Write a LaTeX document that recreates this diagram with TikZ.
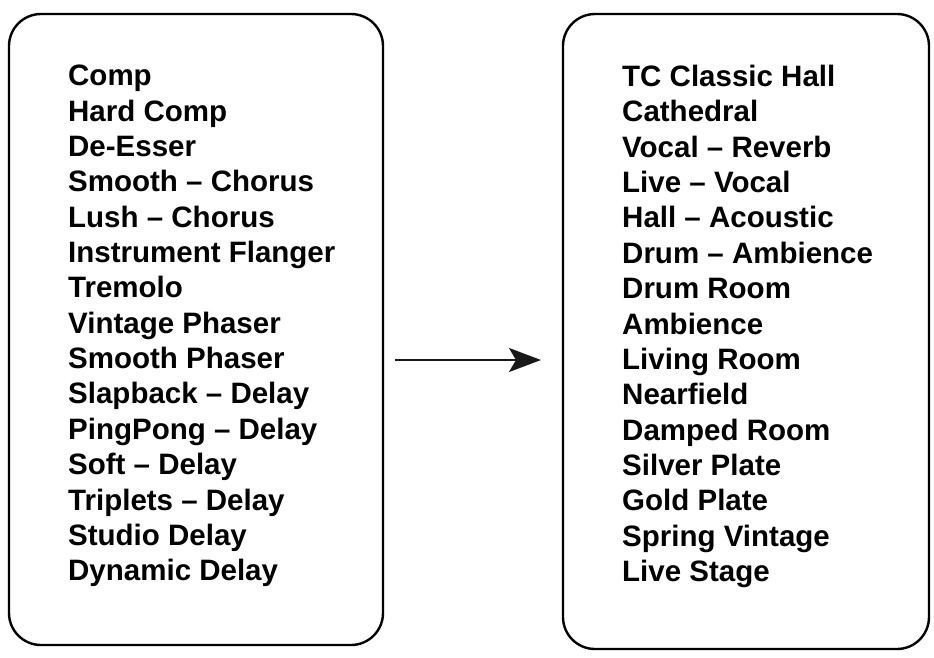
\documentclass[tikz,border=0pt]{standalone}
\usepackage{fontspec}
\setmainfont{Liberation Sans}
\usetikzlibrary{arrows.meta, positioning}
\tikzset{
  lst/box/.style={rectangle, draw=black, line width=2.4pt,
    rounded corners=32pt, inner sep=0pt},
  lst/items/.style={align=left, inner sep=0pt, anchor=north west,
    font=\fontsize{29.5}{35.35}\selectfont\bfseries},
  lst/arr/.style={-{Stealth[length=32pt,width=24pt,inset=7pt]},
    line width=2pt, draw=black!90}
}
\begin{document}
\begin{tikzpicture}[x=1pt, y=-1pt]
  \useasboundingbox (0,0) rectangle (934,657);
  % effect boxes
  \node[lst/box, minimum width=374pt, minimum height=631pt]
    (fxbox) at (196,329.5) {};
  \node[lst/box, minimum width=366pt, minimum height=635pt]
    (revbox) at (746,331.5) {};
  % lists
  \node[lst/items] (fxlist) at (68,65) {
    Comp\\ Hard Comp\\ De-Esser\\ Smooth – Chorus\\ Lush – Chorus\\
    Instrument Flanger\\ Tremolo\\ Vintage Phaser\\ Smooth Phaser\\
    Slapback – Delay\\ PingPong – Delay\\ Soft – Delay\\
    Triplets – Delay\\ Studio Delay\\ Dynamic Delay};
  \node[lst/items] (revlist) at (622,65) {
    TC Classic Hall\\ Cathedral\\ Vocal – Reverb\\ Live – Vocal\\
    Hall – Acoustic\\ Drum – Ambience\\ Drum Room\\ Ambience\\
    Living Room\\ Nearfield\\ Damped Room\\ Silver Plate\\
    Gold Plate\\ Spring Vintage\\ Live Stage};
  % arrow
  \coordinate (arrfrom) at (395,360);
  \coordinate (arrto) at (541,360);
  \draw[lst/arr] (arrfrom) -- (arrto);
\end{tikzpicture}
\end{document}
